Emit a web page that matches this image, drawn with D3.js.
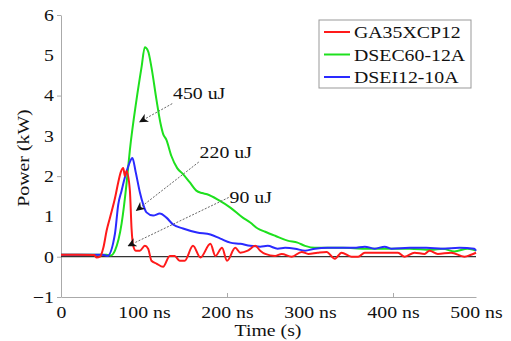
<!DOCTYPE html>
<html>
<head>
<meta charset="utf-8">
<style>
body { margin: 0; background: #fff; }
text { font-family: "Liberation Serif", "Times New Roman", serif; }
</style>
</head>
<body>
<script src="https://d3js.org/d3.v7.min.js"></script>
<script>
// data (time in ns, power in kW)
var seriesNames = ["GA35XCP12", "DSEC60-12A", "DSEI12-10A"];
var seriesColors = ["#ff1a1a", "#1ee01e", "#2a2aff"];

var redT = [0, 20, 40, 43, 47, 51, 55, 59, 65, 69, 72, 75, 77, 79, 83, 85, 87, 90, 95, 101, 105, 109, 115, 123, 131, 137, 143, 149, 159, 168, 180, 186, 194, 200, 210, 216, 225, 234, 240, 246, 258, 266, 278, 290, 298, 309, 320, 330, 338, 350, 358, 366, 385, 406, 414, 426, 438, 444, 454, 470, 486, 494, 500];
var redV = [0.05, 0.05, 0.04, -0.02, 0.0, 0.22, 0.65, 0.97, 1.45, 1.85, 2.1, 2.2, 2.0, 2.13, 1.64, 0.7, 0.27, 0.15, 0.15, 0.27, 0.2, -0.1, -0.17, -0.25, 0.02, 0.02, -0.1, -0.1, 0.27, -0.02, 0.32, 0.02, 0.22, -0.1, 0.22, 0.1, 0.15, 0.27, 0.15, 0.07, 0.02, 0.07, 0.0, 0.12, 0.07, 0.1, 0.12, -0.05, 0.1, 0.0, 0.0, 0.1, 0.1, 0.1, 0.0, 0.1, 0.07, 0.15, 0.07, 0.1, 0.0, 0.05, 0.1];

var greenT = [0, 30, 55, 60, 65, 73, 79, 83, 91, 97, 101, 105, 109, 115, 120, 123, 127, 133, 140, 147, 155, 163, 170, 176, 191, 204, 219, 228, 237, 246, 258, 273, 285, 294, 306, 318, 340, 366, 380, 400, 420, 446, 460, 474, 490, 500];
var greenV = [0.05, 0.05, 0.05, 0.03, 0.15, 0.82, 1.82, 2.65, 3.9, 4.7, 5.2, 5.1, 4.7, 3.9, 3.3, 3.05, 2.9, 2.5, 2.2, 2.05, 1.85, 1.64, 1.58, 1.55, 1.39, 1.22, 0.97, 0.85, 0.7, 0.62, 0.52, 0.4, 0.35, 0.27, 0.22, 0.22, 0.22, 0.2, 0.2, 0.2, 0.2, 0.17, 0.2, 0.13, 0.2, 0.15];

var blueT = [0, 30, 50, 56, 65, 69, 73, 77, 82, 86, 90, 95, 99, 103, 111, 119, 127, 135, 147, 164, 180, 192, 204, 216, 228, 240, 249, 261, 270, 282, 294, 306, 321, 337, 353, 366, 378, 390, 398, 420, 440, 460, 480, 498, 500];
var blueV = [0.05, 0.05, 0.05, 0.02, 0.57, 1.3, 1.64, 1.97, 2.3, 2.45, 2.1, 1.6, 1.3, 1.1, 1.02, 1.07, 0.97, 0.8, 0.7, 0.6, 0.55, 0.45, 0.35, 0.32, 0.27, 0.25, 0.27, 0.2, 0.22, 0.2, 0.15, 0.2, 0.22, 0.22, 0.22, 0.25, 0.2, 0.25, 0.2, 0.22, 0.22, 0.2, 0.22, 0.2, 0.15];

var xTicks = [0, 100, 200, 300, 400, 500];
var xTickMarks = [0, 200, 400];
var yTicks = [-1, 0, 1, 2, 3, 4, 5, 6];
var yTickMarks = [-1, 0, 2, 4, 6];

// annotation labels: text, text anchor point, arrow start, arrow end (data coords)
var noteLabels = ["450 uJ", "220 uJ", "90 uJ"];
var noteText = [[135, 3.92], [167, 2.45], [203, 1.33]];
var noteFrom = [[134, 3.8], [166, 2.35], [202, 1.47]];
var noteTo = [[95, 3.35], [91, 1.15], [81, 0.27]];

var width = 511, height = 341;
var stretch = "scale(1.2,1)";

var svg = d3.select("body").append("svg")
    .attr("width", width)
    .attr("height", height);

var x = d3.scaleLinear().domain([0, 500]).range([61, 476]);
var y = d3.scaleLinear().domain([-1, 6]).range([297, 15]);

// arrow marker
svg.append("defs").append("marker")
    .attr("id", "arr")
    .attr("viewBox", "0 0 10 10")
    .attr("refX", 9).attr("refY", 5)
    .attr("markerWidth", 9).attr("markerHeight", 9)
    .attr("markerUnits", "userSpaceOnUse")
    .attr("orient", "auto")
  .append("path")
    .attr("d", "M0,0 L10,5 L0,10 L3,5 z")
    .attr("fill", "#111");

// y axis
var yAxis = svg.append("g")
    .attr("transform", "translate(61,0)")
    .call(d3.axisLeft(y).tickValues(yTicks).tickSize(0).tickPadding(6).tickFormat(d3.format("d")));
yAxis.select(".domain").attr("stroke", "#aaa");
yAxis.selectAll("text")
    .attr("font-size", "16.5px")
    .attr("fill", "#111")
    .attr("font-family", "Liberation Serif")
    .attr("transform", stretch);

svg.append("g")
    .attr("transform", "translate(61,0)")
    .call(d3.axisLeft(y).tickValues(yTickMarks).tickSize(4).tickFormat(""))
    .call(function(g) { g.select(".domain").remove(); g.selectAll("line").attr("stroke", "#aaa"); });

// x axis
var xAxis = svg.append("g")
    .attr("transform", "translate(0," + y(-1) + ")")
    .call(d3.axisBottom(x).tickValues(xTicks).tickSize(0).tickPadding(9)
        .tickFormat(function(d) { return d === 0 ? "0" : d + " ns"; }));
xAxis.select(".domain").attr("stroke", "#aaa");
xAxis.selectAll("text")
    .attr("font-size", "16.5px")
    .attr("fill", "#111")
    .attr("font-family", "Liberation Serif")
    .attr("transform", stretch);

svg.append("g")
    .attr("transform", "translate(0," + y(-1) + ")")
    .call(d3.axisTop(x).tickValues(xTickMarks).tickSize(4).tickFormat(""))
    .call(function(g) { g.select(".domain").remove(); g.selectAll("line").attr("stroke", "#aaa"); });

// zero line
svg.append("line")
    .attr("x1", x(0)).attr("x2", x(500))
    .attr("y1", y(0)).attr("y2", y(0))
    .attr("stroke", "#333")
    .attr("stroke-width", 1.2);

// axis titles
svg.append("text")
    .attr("transform", "translate(268,336) " + stretch)
    .attr("text-anchor", "middle")
    .attr("font-size", "16.5px")
    .attr("fill", "#111")
    .text("Time (s)");

svg.append("text")
    .attr("transform", "translate(29,158) rotate(-90) " + stretch)
    .attr("text-anchor", "middle")
    .attr("font-size", "16.5px")
    .attr("fill", "#111")
    .text("Power (kW)");

// series
var line = d3.line()
    .x(function(d) { return x(d[0]); })
    .y(function(d) { return y(d[1]); })
    .curve(d3.curveMonotoneX);

var allT = [redT, greenT, blueT];
var allV = [redV, greenV, blueV];
var drawOrder = [1, 2, 0];
drawOrder.forEach(function(i) {
  var pts = d3.zip(allT[i], allV[i]);
  svg.append("path")
      .attr("d", line(pts))
      .attr("fill", "none")
      .attr("stroke", seriesColors[i])
      .attr("stroke-width", 2)
      .attr("stroke-linejoin", "round");
});

// annotations
noteLabels.forEach(function(lbl, i) {
  svg.append("line")
      .attr("x1", x(noteFrom[i][0])).attr("y1", y(noteFrom[i][1]))
      .attr("x2", x(noteTo[i][0])).attr("y2", y(noteTo[i][1]))
      .attr("stroke", "#666")
      .attr("stroke-width", 1)
      .attr("stroke-dasharray", "2,1.5")
      .attr("marker-end", "url(#arr)");
  svg.append("text")
      .attr("transform", "translate(" + x(noteText[i][0]) + "," + y(noteText[i][1]) + ") " + stretch)
      .attr("font-size", "16.5px")
      .attr("fill", "#111")
      .text(lbl);
});

// legend
var legend = svg.append("g").attr("transform", "translate(319,20)");
legend.append("rect")
    .attr("width", 152).attr("height", 68)
    .attr("fill", "#fff")
    .attr("stroke", "#999");
seriesNames.forEach(function(name, i) {
  var ly = 12 + i * 22.5;
  legend.append("line")
      .attr("x1", 5).attr("x2", 31)
      .attr("y1", ly).attr("y2", ly)
      .attr("stroke", seriesColors[i])
      .attr("stroke-width", 2);
  legend.append("text")
      .attr("transform", "translate(35," + (ly + 6) + ") " + stretch)
      .attr("font-size", "16.5px")
      .attr("fill", "#111")
      .text(name);
});
</script>
</body>
</html>
